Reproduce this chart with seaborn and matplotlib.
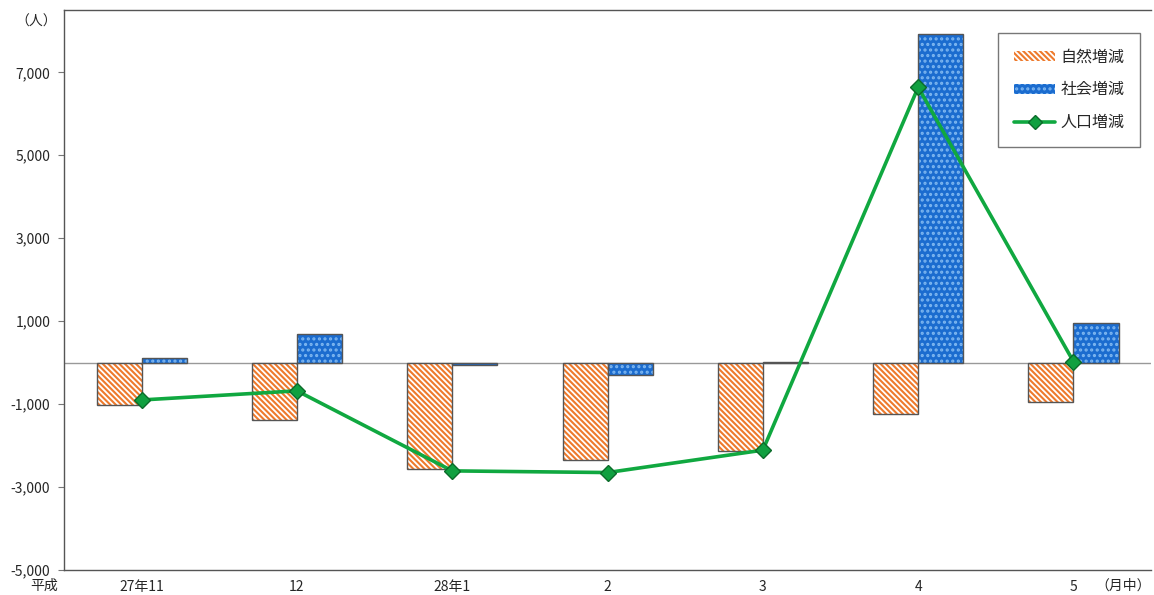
import numpy as np
import pandas as pd
import seaborn as sns
import matplotlib.pyplot as plt
from matplotlib.patches import Rectangle
from matplotlib.lines import Line2D
from matplotlib.ticker import FuncFormatter

# Data
months = ["27年11", "12", "28年1", "2", "3", "4", "5"]
natural = [-1010, -1390, -2560, -2340, -2130, -1250, -940]
social = [100, 700, -50, -310, 20, 7920, 960]
population = [-900, -680, -2610, -2650, -2110, 6640, 25]

series_names = ["自然増減", "社会増減", "人口増減"]

ORANGE = "#EE7A2C"
BLUE = "#1B6CCF"
DOTS = "#7DB6F0"
GREEN = "#10A840"
HATCH_O = "\\\\\\\\\\\\"
HATCH_B = "..."


def build_frame() -> pd.DataFrame:
    df = pd.DataFrame({
        "month": months * 2,
        "kind": [series_names[0]] * len(months) + [series_names[1]] * len(months),
        "value": natural + social,
    })
    return df


def main():
    sns.set_style("white")
    plt.rcParams["font.family"] = ["Noto Sans CJK JP", "DejaVu Sans"]
    plt.rcParams["hatch.linewidth"] = 1.5

    fig = plt.figure(figsize=(11.54, 5.95), dpi=100)
    ax = fig.add_axes([0.0555, 0.042, 0.942, 0.941])

    df = build_frame()
    sns.barplot(data=df, x="month", y="value", hue="kind", order=months,
                hue_order=series_names[:2], palette=["white", BLUE],
                width=0.58, dodge=True, legend=False, ax=ax, zorder=3)

    bars = [p for p in ax.patches if isinstance(p, Rectangle)]
    n = len(months)
    for i, p in enumerate(bars[:2 * n]):
        if i < n:
            p.set_facecolor("white")
            p.set_hatch(HATCH_O)
            p.set_edgecolor(ORANGE)
        else:
            p.set_facecolor(BLUE)
            p.set_hatch(HATCH_B)
            p.set_edgecolor(DOTS)
        p.set_linewidth(0)
        # outline on top
        ax.add_patch(Rectangle(p.get_xy(), p.get_width(), p.get_height(),
                               fill=False, edgecolor="#555555", lw=1.0, zorder=4))

    line_df = pd.DataFrame({"x": np.arange(n), "value": population})
    sns.lineplot(data=line_df, x="x", y="value", ax=ax, color=GREEN, lw=2.6,
                 marker="D", markersize=8, markerfacecolor="#10A040",
                 markeredgecolor="#0B6B2A", markeredgewidth=1.0, zorder=5)

    ax.axhline(0, color="#999999", lw=1.0, zorder=2)

    ax.set_xlim(-0.5, n - 0.5)
    ax.set_ylim(-5000, 8500)
    ax.set_yticks(np.arange(-5000, 7001, 2000))
    ax.yaxis.set_major_formatter(FuncFormatter(lambda v, _: f"{int(v):,}"))
    ax.tick_params(axis="y", which="both", left=True, length=4, width=0.8,
                   color="#777777", labelsize=10, pad=6)
    ax.tick_params(axis="x", bottom=False, labelsize=10, pad=4)
    ax.set_xticks(np.arange(n))
    ax.set_xticklabels(months)
    ax.set_xlabel("")
    ax.set_ylabel("")

    for side in ["left", "bottom", "top"]:
        ax.spines[side].set_color("#555555")
        ax.spines[side].set_linewidth(1.0)
    ax.spines["right"].set_visible(False)

    fig.text(0.013, 0.963, "（人）", fontsize=10, ha="left", va="center")
    fig.text(0.026, 0.016, "平成", fontsize=10, ha="left", va="center")
    fig.text(0.997, 0.016, "（月中）", fontsize=10, ha="right", va="center")

    handles = [
        Rectangle((0, 0), 1, 1, facecolor="white", edgecolor=ORANGE, hatch=HATCH_O, lw=0),
        Rectangle((0, 0), 1, 1, facecolor=BLUE, edgecolor=DOTS, hatch=HATCH_B, lw=0),
        Line2D([], [], color=GREEN, lw=2.6, marker="D", markersize=7,
               markerfacecolor="#10A040", markeredgecolor="#0B6B2A"),
    ]
    leg = ax.legend(handles, series_names, loc="upper right",
                    bbox_to_anchor=(0.99, 0.96), fontsize=11.5, frameon=True,
                    fancybox=False, edgecolor="#555555", labelspacing=1.0,
                    handlelength=2.6, handleheight=0.6, borderpad=1.0,
                    handletextpad=0.3, borderaxespad=0)
    leg.get_frame().set_linewidth(1.0)

    fig.savefig("out.png", dpi=100)


if __name__ == "__main__":
    main()
